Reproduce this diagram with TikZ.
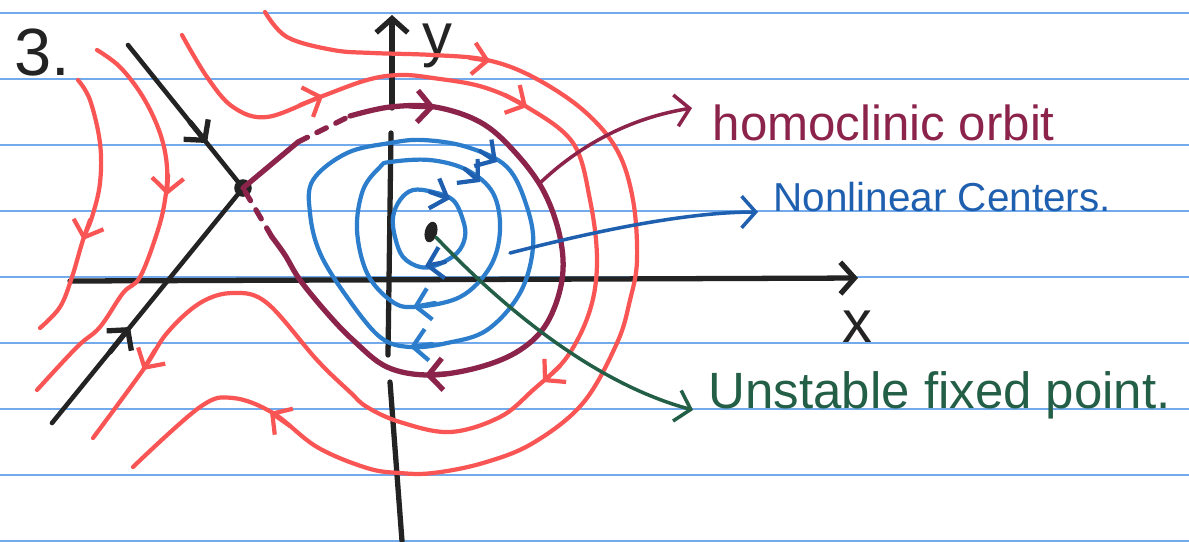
\documentclass[tikz,border=0pt]{standalone}
\usepackage{fontspec}
\setmainfont{Liberation Sans}
\usetikzlibrary{arrows.meta, shapes.geometric}
\definecolor{paper}{RGB}{115,170,235}
\definecolor{ink}{RGB}{35,35,35}
\definecolor{orbred}{RGB}{250,85,85}
\definecolor{homo}{RGB}{140,35,75}
\definecolor{centre}{RGB}{45,125,205}
\definecolor{centrelab}{RGB}{30,95,175}
\definecolor{fixgreen}{RGB}{35,95,70}

\begin{document}
\begin{tikzpicture}[x=0.01cm, y=-0.01cm,
  >={Straight Barb[length=4pt,width=9pt]},
  pen/.style={line width=1.2pt, line cap=round, line join=round},
  axis/.style={pen, ink, line width=1.5pt},
  orbit/.style={pen, orbred},
  homoc/.style={pen, homo, line width=1.5pt},
  cen/.style={pen, centre},
  pointer/.style={line width=1pt, line cap=round, ->},
  hand/.style={inner sep=0pt, anchor=base west},
  wob/.style={smooth, tension=0.6}]
  % lined paper
  \fill[white] (0,0) rectangle (1189,541);
  \useasboundingbox (0,0) rectangle (1189,541);
  \foreach \k in {0,...,8}
    \draw[paper, line width=0.8pt] (0,{13+66*\k}) -- (1189,{13+66*\k});
  % exercise number
  \node[hand, ink, font=\fontsize{19}{22}\selectfont] (num) at (14,75) {3.};
  % axes
  \draw[axis, ->] (70,281) -- (858,278);
  \draw[axis, ->] (392,108) -- (392,15);
  \draw[axis] (391,133) -- (388,355);
  \draw[axis] (390,382) -- (402,541);
  \node[ink, font=\fontsize{17}{20}\selectfont] (xlab) at (857,327) {x};
  \node[ink, font=\fontsize{17}{20}\selectfont] (ylab) at (437,46) {y};
  % saddle and its stable manifold
  \node[circle, fill=ink, inner sep=0pt, minimum size=5pt] (sad) at (243,188) {};
  \draw[axis, line width=1.3pt] (128,45) -- (sad.center) -- (52,423);
  \draw[axis, ->] (190,122) -- (207,143);
  \draw[axis, ->] (110,352) -- (130,327);
  % outer red orbits
  \draw[orbit] plot[wob] coordinates {(265,12) (287,37) (333,50) (373,53) (433,55) (487,60) (533,77) (583,110) (617,150) (633,200) (637,260) (630,300) (617,343) (583,403) (533,443) (483,463) (433,473) (400,473) (367,468) (317,447) (273,413) (233,398) (200,407) (133,467)};
  \draw[orbit] plot[wob] coordinates {(182,35) (207,77) (233,107) (267,117) (320,97) (367,80) (400,75) (433,78) (483,87) (527,107) (573,143) (590,200) (597,260) (590,310) (567,357) (533,390) (500,417) (450,432) (400,422) (367,407) (350,392) (317,360) (267,303) (233,293) (200,303) (167,333) (143,370) (93,438)};
  \draw[orbit] plot[wob] coordinates {(78,80) (90,100) (100,143) (100,183) (92,217) (83,240) (72,277) (60,307) (40,328)};
  \draw[orbit] plot[wob] coordinates {(97,50) (120,67) (143,97) (160,133) (167,167) (165,200) (157,233) (140,277) (123,293) (100,327) (77,347) (37,390)};
  \draw[orbit, ->] (470,58) -- (490,61);
  \draw[orbit, ->] (290,426) -- (270,412);
  \draw[orbit, ->] (300,105) -- (323,96);
  \draw[orbit, ->] (505,95) -- (527,107);
  \draw[orbit, ->] (560,366) -- (543,382);
  \draw[orbit, ->] (155,350) -- (143,370);
  \draw[orbit, ->] (90,220) -- (83,240);
  \draw[orbit, ->] (168,175) -- (167,195);
  % homoclinic orbit
  \draw[homoc] plot[wob] coordinates {(350,116) (390,107) (435,107) (480,122) (513,150) (543,190) (560,237) (562,280) (547,323) (520,350) (480,367) (430,375) (387,367) (353,340) (327,313) (300,280) (285,255) (272,237)};
  \draw[homoc] (sad.center) -- (298,142);
  \draw[homoc, dashed] (298,142) -- (350,116);
  \draw[homoc, dashed] (272,237) -- (sad.center);
  \draw[homoc, ->] (410,106) -- (435,107);
  \draw[homoc, ->] (445,374) -- (425,375);
  % nonlinear centers
  \draw[cen] plot[smooth cycle, tension=0.6] coordinates {(413,190) (433,192) (453,200) (463,220) (465,237) (457,253) (437,265) (420,267) (403,257) (395,237) (393,217) (400,200)};
  \draw[cen] plot[smooth cycle, tension=0.6] coordinates {(390,162) (430,160) (467,170) (493,193) (500,230) (490,267) (460,297) (413,307) (390,300) (367,273) (357,230) (363,190) (380,167)};
  \draw[cen] plot[smooth cycle, tension=0.6] coordinates {(313,180) (347,153) (390,143) (423,140) (467,147) (507,167) (527,207) (533,247) (520,293) (487,330) (447,343) (410,347) (380,337) (347,297) (320,253) (310,213)};
  \draw[cen, centrelab, ->] (430,192) -- (450,199);
  \draw[cen, centrelab, ->] (445,262) -- (425,266);
  \draw[cen, centrelab, ->] (465,169) -- (480,182);
  \draw[cen, centrelab, ->] (480,151) -- (497,162);
  \draw[cen, ->] (435,303) -- (413,307);
  \draw[cen, ->] (432,344) -- (410,347);
  % unstable fixed point
  \node[ellipse, fill=ink, inner sep=0pt, minimum width=3.5pt, minimum height=6pt, rotate=-15] (fp) at (431,232) {};
  % labels
  \node[hand, homo, font=\fontsize{14}{16}\selectfont] (homlab) at (712,140) {homoclinic orbit};
  \node[hand, centrelab, font=\fontsize{11.5}{14}\selectfont] (cenlab) at (773,211) {Nonlinear Centers.};
  \node[hand, fixgreen, font=\fontsize{14.5}{17}\selectfont] (fixlab) at (708,408) {Unstable fixed point.};
  % pointers
  \coordinate (homstart) at (540,183);
  \coordinate (censtart) at (510,253);
  \draw[pointer, homo] (homstart) .. controls (580,145) and (630,118) .. ([shift={(-20,-32)}]homlab.base west);
  \draw[pointer, centrelab] (censtart) .. controls (580,235) and (680,212) .. ([shift={(-15,1)}]cenlab.base west);
  \draw[pointer, fixgreen] (fp) .. controls (510,315) and (600,385) .. ([shift={(-15,2)}]fixlab.base west);
\end{tikzpicture}
\end{document}
